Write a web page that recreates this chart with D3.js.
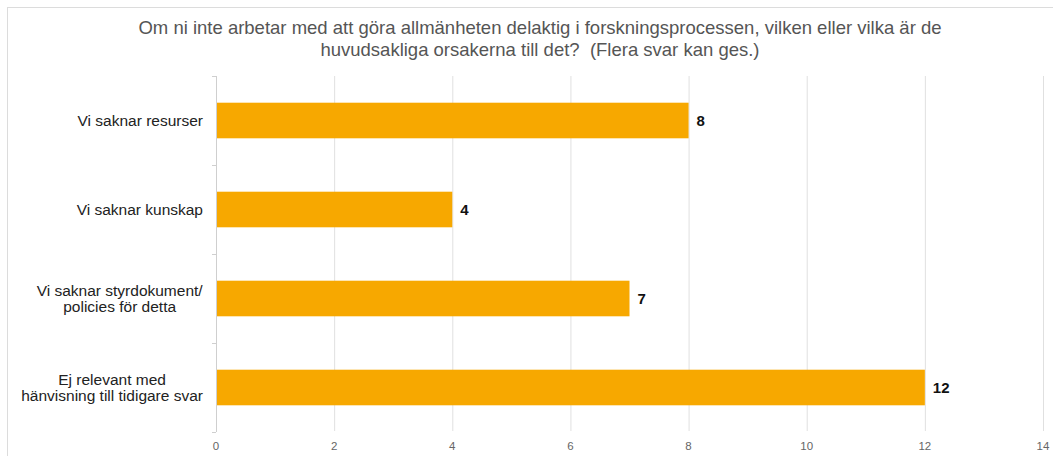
<!DOCTYPE html>
<html lang="sv">
  <head>
    <meta charset="utf-8" />
    <title>Orsaker</title>
    <script src="https://d3js.org/d3.v7.min.js"></script>
    <style>
      body { margin: 0; background: #fff; }
      text { font-family: "Liberation Sans", Arial, sans-serif; white-space: pre; }
    </style>
  </head>
  <body>
    <script>
      // data
      var categories = [
        ["Vi saknar resurser"],
        ["Vi saknar kunskap"],
        ["Vi saknar styrdokument/", "policies för detta"],
        ["Ej relevant med", "hänvisning till tidigare svar"]
      ];
      var counts = [8, 4, 7, 12];
      var xTicks = [0, 2, 4, 6, 8, 10, 12, 14];
      var titleLines = [
        "Om ni inte arbetar med att göra allmänheten delaktig i forskningsprocessen, vilken eller vilka är de",
        "huvudsakliga orsakerna till det?  (Flera svar kan ges.)"
      ];

      var width = 1053, height = 456;

      var svg = d3.select("body").append("svg")
        .attr("width", width)
        .attr("height", height);

      // outer frame
      svg.append("rect")
        .attr("x", 7.5).attr("y", 7.5)
        .attr("width", width).attr("height", height)
        .attr("fill", "none")
        .attr("stroke", "#dcdcdc");

      svg.append("text")
        .attr("y", 34)
        .attr("text-anchor", "middle")
        .attr("font-size", 18.5)
        .attr("fill", "#555")
        .selectAll("tspan")
        .data(titleLines)
        .join("tspan")
        .attr("x", 540)
        .attr("dy", function (d, i) { return i ? 22 : 0; })
        .text(function (d) { return d; });

      var x = d3.scaleLinear().domain([0, 14]).range([216, 1043]);
      var y = d3.scaleBand()
        .domain(d3.range(categories.length))
        .range([76, 432])
        .paddingInner(0.6)
        .paddingOuter(0.3);

      // gridlines
      svg.append("g")
        .selectAll("line")
        .data(xTicks.slice(1))
        .join("line")
        .attr("x1", function (d) { return x(d) + 0.5; })
        .attr("x2", function (d) { return x(d) + 0.5; })
        .attr("y1", 76)
        .attr("y2", 431)
        .attr("stroke", "#e0e0e0");

      // category axis with boundary ticks
      var bounds = d3.range(categories.length + 1).map(function (i) { return 76 + i * (356 / categories.length); });
      svg.append("line")
        .attr("x1", 216.5).attr("x2", 216.5)
        .attr("y1", 76).attr("y2", 432)
        .attr("stroke", "#cfcfcf");
      svg.append("g")
        .selectAll("line")
        .data(bounds)
        .join("line")
        .attr("x1", 212).attr("x2", 216)
        .attr("y1", function (d) { return d + 0.5; })
        .attr("y2", function (d) { return d + 0.5; })
        .attr("stroke", "#cfcfcf");

      // x tick labels
      svg.append("g")
        .selectAll("text")
        .data(xTicks)
        .join("text")
        .attr("x", function (d) { return x(d); })
        .attr("y", 450)
        .attr("text-anchor", "middle")
        .attr("font-size", 11.5)
        .attr("fill", "#666")
        .text(function (d) { return d; });

      // bars
      svg.append("g")
        .selectAll("rect")
        .data(counts)
        .join("rect")
        .attr("x", x(0) + 1)
        .attr("y", function (d, i) { return y(i); })
        .attr("width", function (d) { return x(d) - x(0) - 1; })
        .attr("height", y.bandwidth())
        .attr("fill", "#f7a800");

      // value labels
      svg.append("g")
        .selectAll("text")
        .data(counts)
        .join("text")
        .attr("x", function (d) { return x(d) + 8; })
        .attr("y", function (d, i) { return y(i) + y.bandwidth() / 2 + 5.5; })
        .attr("font-size", 15)
        .attr("font-weight", "bold")
        .attr("fill", "#111")
        .text(function (d) { return d; });

      // category labels: lines centred in a block right-aligned at x=203
      var labels = svg.append("g")
        .selectAll("text")
        .data(categories)
        .join("text")
        .attr("font-size", 15.5)
        .attr("fill", "#222")
        .attr("text-anchor", "middle");
      labels.each(function (lines, i) {
        var t = d3.select(this);
        var cy = y(i) + y.bandwidth() / 2;
        t.attr("y", cy + 5.5 - (lines.length - 1) * 8);
        t.selectAll("tspan")
          .data(lines)
          .join("tspan")
          .attr("x", 0)
          .attr("dy", function (d, j) { return j ? 16 : 0; })
          .text(function (d) { return d; });
        var w = this.getBBox().width;
        t.selectAll("tspan").attr("x", 203 - w / 2);
      });
    </script>
  </body>
</html>
